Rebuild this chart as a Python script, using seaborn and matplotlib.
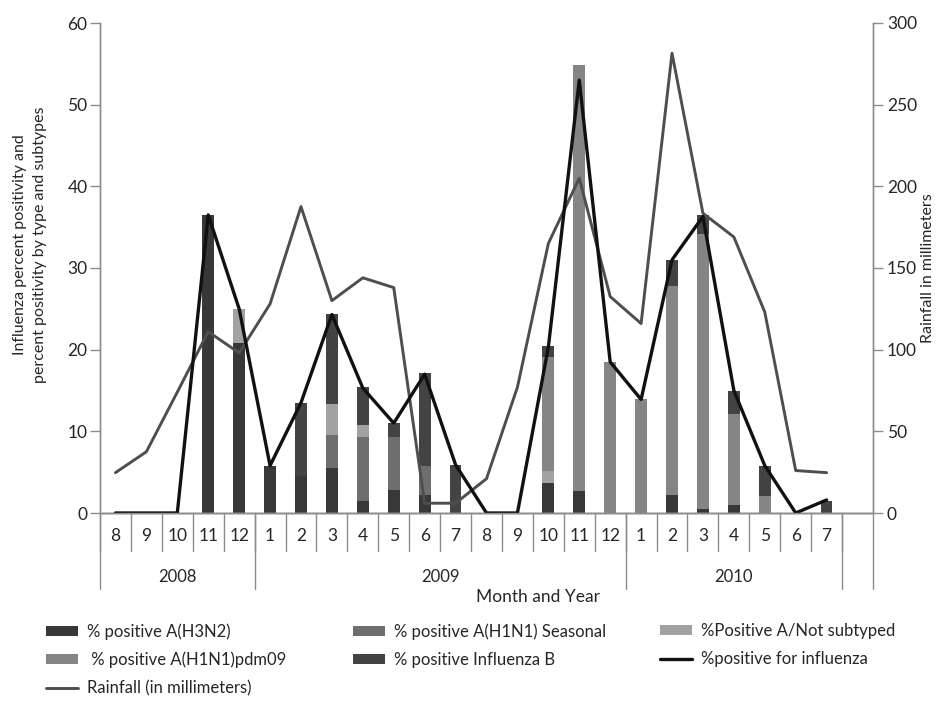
#!/usr/bin/env python3
"""Monthly influenza positivity by subtype vs. rainfall, Aug 2008 - Jul 2010."""

import matplotlib as mpl
import matplotlib.pyplot as plt
import matplotlib.transforms as mtransforms
import numpy as np
import seaborn as sns

# ---------------------------------------------------------------------------
# Data (Aug 2008 .. Jul 2010)
# ---------------------------------------------------------------------------
MONTH_LABELS = ["8", "9", "10", "11", "12",
                "1", "2", "3", "4", "5", "6", "7", "8", "9", "10", "11", "12",
                "1", "2", "3", "4", "5", "6", "7"]
YEARS = ["2008", "2009", "2010"]
YEAR_SPANS = [(0, 4), (5, 16), (17, 23)]

H3N2 = [0, 0, 0, 36.5, 20.8, 5.8, 4.5, 5.5, 1.5, 2.8, 2.2, 0,
        0, 0, 3.7, 2.7, 0, 0, 2.2, 0.5, 1.0, 0, 0, 0]
H1N1_SEASONAL = [0, 0, 0, 0, 0, 0, 0, 4.0, 7.8, 6.5, 3.5, 0,
                 0, 0, 0, 0, 0, 0, 0, 0, 0, 0, 0, 0]
NOT_SUBTYPED = [0, 0, 0, 0, 4.2, 0, 0, 3.9, 1.5, 0, 0, 0,
                0, 0, 1.4, 0, 0, 0, 0, 0, 0, 0, 0, 0]
H1N1_PDM09 = [0, 0, 0, 0, 0, 0, 0, 0, 0, 0, 0, 0,
              0, 0, 14.0, 52.1, 18.5, 13.9, 25.6, 33.7, 11.1, 2.1, 0, 0]
INFLUENZA_B = [0, 0, 0, 0, 0, 0, 9.0, 11.0, 4.6, 1.7, 11.4, 5.9,
               0, 0, 1.3, 0, 0, 0, 3.2, 2.3, 2.9, 3.6, 0, 1.5]

PCT_POSITIVE = [0, 0, 0, 36.5, 25.0, 5.8, 13.5, 24.3, 15.3, 11.0, 17.0, 5.9,
                0, 0, 20.3, 53.0, 18.5, 13.9, 31.0, 36.3, 15.0, 5.8, 0, 1.6]
RAINFALL_MM = [24.7, 37.5, 74, 111, 98, 128, 187.6, 130, 144, 138, 6, 6,
               21, 77, 165, 205, 132.5, 116, 281.5, 183.5, 169, 123, 26, 24.7]

LEFT_MAX, RIGHT_MAX = 60, 300

# stack order bottom -> top
LAYERS = [
    ("% positive A(H3N2)", H3N2, "#383838"),
    ("% positive A(H1N1) Seasonal", H1N1_SEASONAL, "#6e6e6e"),
    ("%Positive A/Not subtyped", NOT_SUBTYPED, "#a2a2a2"),
    (" % positive A(H1N1)pdm09", H1N1_PDM09, "#858585"),
    ("% positive Influenza B", INFLUENZA_B, "#434343"),
]
LINE_BLACK = "#111111"
LINE_RAIN = "#4e4e4e"
AXIS_GRAY = "#8c8c8c"
TEXT = "#262626"

# figure geometry in pixels (950 x 702)
W, H = 950, 702
AX_L, AX_R, AX_T, AX_B = 100, 873, 23, 513


def main() -> None:
    sns.set_theme(style="white")
    mpl.rcParams["font.family"] = ["Lato", "DejaVu Sans"]

    fig = plt.figure(figsize=(W / 100, H / 100), dpi=100)
    ax = fig.add_axes([AX_L / W, 1 - AX_B / H, (AX_R - AX_L) / W, (AX_B - AX_T) / H])
    ax2 = ax.twinx()
    ax.set_zorder(1)
    ax2.set_zorder(2)
    ax2.patch.set_visible(False)

    pos = np.arange(len(MONTH_LABELS))

    # stacked bars: draw cumulative totals from the top layer down
    cum = np.cumsum(np.array([layer[1] for layer in LAYERS], dtype=float), axis=0)
    for k in range(len(LAYERS) - 1, -1, -1):
        sns.barplot(x=pos, y=cum[k], native_scale=True, width=0.38,
                    color=LAYERS[k][2], saturation=1, errorbar=None,
                    linewidth=0, ax=ax)

    # lines on the right axis (black line rescaled to the rainfall scale)
    scale = RIGHT_MAX / LEFT_MAX
    sns.lineplot(x=pos, y=RAINFALL_MM, color=LINE_RAIN, linewidth=2.1, ax=ax2)
    sns.lineplot(x=pos, y=np.array(PCT_POSITIVE) * scale, color=LINE_BLACK,
                 linewidth=2.4, ax=ax2)

    for a in (ax, ax2):
        a.set_xlim(-0.5, len(MONTH_LABELS) + 0.5)
        a.set_xlabel("")
        a.set_ylabel("")
        a.tick_params(axis="x", bottom=False, top=False, labelbottom=False)
        a.spines["top"].set_visible(False)
        for s in ("left", "right", "bottom"):
            a.spines[s].set_color(AXIS_GRAY)
            a.spines[s].set_linewidth(1.0)
    ax.set_ylim(0, LEFT_MAX)
    ax2.set_ylim(0, RIGHT_MAX)
    ax.set_yticks(np.arange(0, LEFT_MAX + 1, 10))
    ax2.set_yticks(np.arange(0, RIGHT_MAX + 1, 50))
    ax.tick_params(axis="y", left=True, length=7, width=1, color=AXIS_GRAY,
                   labelsize=12.5, labelcolor=TEXT, pad=2)
    ax2.tick_params(axis="y", right=True, length=7, width=1, color=AXIS_GRAY,
                    labelsize=12.5, labelcolor=TEXT, pad=3)

    # category axis drawn by hand: month row, year row
    def ay(pix):
        return (AX_B - pix) / (AX_B - AX_T)

    trans = mtransforms.blended_transform_factory(ax.transData, ax.transAxes)
    line_kw = dict(color=AXIS_GRAY, lw=1.0, transform=trans, clip_on=False)
    for b in np.arange(-0.5, len(MONTH_LABELS)):
        ax.plot([b, b], [0, ay(551)], **line_kw)
    year_bounds = [YEAR_SPANS[0][0] - 0.5] + [s[1] + 0.5 for s in YEAR_SPANS]
    year_bounds.append(len(MONTH_LABELS) + 0.5)
    for b in year_bounds:
        ax.plot([b, b], [0, ay(589)], **line_kw)
    ax.plot([-0.5, len(MONTH_LABELS) + 0.5], [0, 0], **line_kw)

    for i, lab in zip(pos, MONTH_LABELS):
        ax.text(i, ay(536), lab, transform=trans, ha="center", va="center",
                fontsize=12.5, color=TEXT)
    for yr, (s, e) in zip(YEARS, YEAR_SPANS):
        ax.text((s + e) / 2, ay(577), yr, transform=trans, ha="center",
                va="center", fontsize=12, color=TEXT)

    fig.text(538 / W, 1 - 597 / H, "Month and Year", ha="center", va="center",
             fontsize=12.5, color=TEXT)
    fig.text(30 / W, 1 - 245 / H,
             "Influenza percent positivity and\npercent positivity by type and subtypes",
             rotation=90, ha="center", va="center", multialignment="center",
             fontsize=11.5, color=TEXT, linespacing=1.5)
    fig.text(928 / W, 1 - 268 / H, "Rainfall in millimeters", rotation=90,
             ha="center", va="center", fontsize=11.5, color=TEXT)

    # legend: three columns placed where the reference puts them
    patches = [mpl.patches.Patch(facecolor=c, edgecolor="none", label=l)
               for l, _, c in LAYERS]
    black = mpl.lines.Line2D([], [], color=LINE_BLACK, lw=2.4,
                             label="%positive for influenza")
    rain = mpl.lines.Line2D([], [], color=LINE_RAIN, lw=2.1,
                            label="Rainfall (in millimeters)")
    columns = [
        (46, [patches[0], patches[3], rain]),
        (353, [patches[1], patches[4]]),
        (660, [patches[2], black]),
    ]
    for x_pix, hs in columns:
        fig.legend(handles=hs, loc="upper left",
                   bbox_to_anchor=(x_pix / W, 1 - 623 / H),
                   borderaxespad=0, borderpad=0, frameon=False,
                   fontsize=12, handlelength=1.9, handleheight=0.55,
                   handletextpad=0.55, labelspacing=0.72, labelcolor=TEXT)

    fig.savefig("out.png", dpi=100, facecolor="white")
    plt.close(fig)


if __name__ == "__main__":
    main()
